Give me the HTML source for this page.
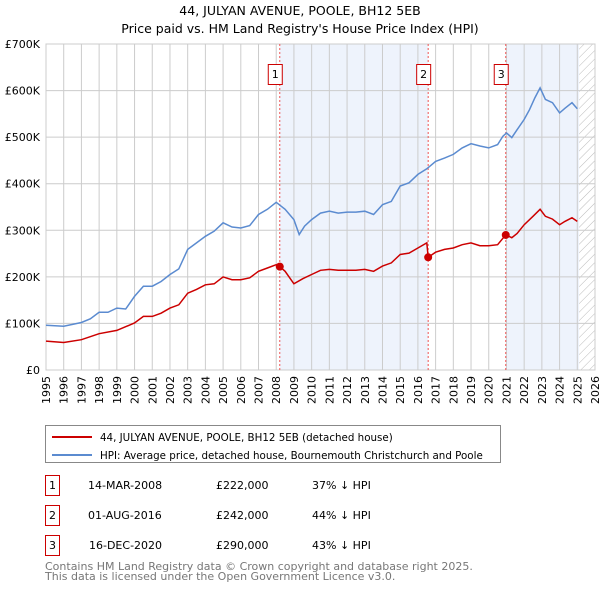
<!DOCTYPE html>
<html><head><meta charset="utf-8"><style>
body{margin:0;background:#fff;font-family:"DejaVu Sans","Liberation Sans",sans-serif;}
svg text{font-family:"DejaVu Sans","Liberation Sans",sans-serif;}
</style></head><body>
<svg id="c" width="600" height="590" xmlns="http://www.w3.org/2000/svg">
<text x="300" y="15" text-anchor="middle" font-size="12.5">44, JULYAN AVENUE, POOLE, BH12 5EB</text>
<text x="300" y="33" text-anchor="middle" font-size="12.5">Price paid vs. HM Land Registry's House Price Index (HPI)</text>
<g id="plot"></g>
<rect x="45.5" y="425.5" width="455" height="37" fill="#fff" stroke="#888"/>
<line x1="52" y1="437" x2="92" y2="437" stroke="#cc0000" stroke-width="2"/>
<text x="100" y="441" font-size="10.3">44, JULYAN AVENUE, POOLE, BH12 5EB (detached house)</text>
<line x1="52" y1="455" x2="92" y2="455" stroke="#5b8bd0" stroke-width="2"/>
<text x="100" y="459" font-size="10.3">HPI: Average price, detached house, Bournemouth Christchurch and Poole</text>
<g font-size="11">
<rect x="45.5" y="475.5" width="14" height="20" fill="none" stroke="#cc0000"/><text x="52.5" y="489" text-anchor="middle">1</text>
<text x="88" y="489">14-MAR-2008</text><text x="216" y="489">£222,000</text><text x="312" y="489">37% ↓ HPI</text>
<rect x="45.5" y="505.5" width="14" height="20" fill="none" stroke="#cc0000"/><text x="52.5" y="519" text-anchor="middle">2</text>
<text x="88" y="519">01-AUG-2016</text><text x="216" y="519">£242,000</text><text x="312" y="519">44% ↓ HPI</text>
<rect x="45.5" y="535.5" width="14" height="20" fill="none" stroke="#cc0000"/><text x="52.5" y="549" text-anchor="middle">3</text>
<text x="89" y="549">16-DEC-2020</text><text x="216" y="549">£290,000</text><text x="312" y="549">43% ↓ HPI</text>
</g>
<text x="45" y="570" font-size="11" fill="#777">Contains HM Land Registry data © Crown copyright and database right 2025.</text>
<text x="45" y="580" font-size="11" fill="#777">This data is licensed under the Open Government Licence v3.0.</text>
</svg>
<script>
const yTicks=[0,100,200,300,400,500,600,700];
const yTickLabels=["£0","£100K","£200K","£300K","£400K","£500K","£600K","£700K"];
const years=[1995,1996,1997,1998,1999,2000,2001,2002,2003,2004,2005,2006,2007,2008,2009,2010,2011,2012,2013,2014,2015,2016,2017,2018,2019,2020,2021,2022,2023,2024,2025,2026];
const saleDates=[2008.2,2016.58,2020.96];
const saleValues=[222,242,290];
const saleLabels=["1","2","3"];
const hpiX=[1995,1996,1997,1997.5,1998,1998.5,1999,1999.5,2000,2000.5,2001,2001.5,2002,2002.5,2003,2003.5,2004,2004.5,2005,2005.5,2006,2006.5,2007,2007.5,2008,2008.5,2009,2009.3,2009.6,2010,2010.5,2011,2011.5,2012,2012.5,2013,2013.5,2014,2014.5,2015,2015.5,2016,2016.5,2017,2017.5,2018,2018.5,2019,2019.5,2020,2020.5,2020.8,2021,2021.3,2021.6,2022,2022.3,2022.6,2022.9,2023.2,2023.6,2024,2024.3,2024.7,2025];
const hpiY=[96,94,102,110,124,124,133,131,158,180,180,190,205,217,259,273,287,298,316,307,305,310,334,345,360,345,323,291,309,323,337,341,337,339,339,341,334,355,362,395,402,420,432,448,455,463,477,486,481,477,484,502,509,499,516,538,559,584,606,581,574,552,562,574,561];
const redX=[1995,1996,1997,1998,1999,2000,2000.5,2001,2001.5,2002,2002.5,2003,2003.5,2004,2004.5,2005,2005.5,2006,2006.5,2007,2007.5,2008,2008.2,2008.5,2009,2009.5,2010,2010.5,2011,2011.5,2012,2012.5,2013,2013.5,2014,2014.5,2015,2015.5,2016,2016.5,2016.58,2017,2017.5,2018,2018.5,2019,2019.5,2020,2020.5,2020.96,2021.3,2021.6,2022,2022.5,2022.9,2023.2,2023.6,2024,2024.3,2024.7,2025];
const redY=[62,59,65,78,85,101,115,115,122,133,140,165,173,183,185,200,194,194,198,212,219,226,222,212,185,196,205,214,216,214,214,214,216,212,223,230,248,251,262,273,242,253,259,262,269,273,267,267,269,290,284,293,312,330,345,330,324,312,319,327,319];

const L=46,R=595,T=44,B=370;
const xs=y=>L+(y-1995)*(R-L)/31;
const ys=v=>B-v*(B-T)/700;
const NS="http://www.w3.org/2000/svg";
const g=document.getElementById('plot');
function mk(t,a){const e=document.createElementNS(NS,t);for(const k in a)e.setAttribute(k,a[k]);g.appendChild(e);return e;}
let s1=mk('rect',{x:xs(saleDates[0]),y:T,width:xs(saleDates[1])-xs(saleDates[0]),height:B-T,fill:'#eef3fc'});


let s2=mk('rect',{x:xs(saleDates[2]),y:T,width:xs(2025.1)-xs(saleDates[2]),height:B-T,fill:'#eef3fc'});


const defs=document.createElementNS(NS,'defs');defs.innerHTML='<pattern id="h" width="6" height="6" patternUnits="userSpaceOnUse" patternTransform="rotate(45)"><line x1="0" y1="0" x2="0" y2="6" stroke="#bbb" stroke-width="1"/></pattern>';g.appendChild(defs);
let hz=mk('rect',{x:xs(2025.1),y:T,width:R-xs(2025.1),height:B-T,fill:'url(#h)'});


years.forEach((yr,i)=>{
 let l=mk('line',{x1:xs(yr),y1:T,x2:xs(yr),y2:B,stroke:'#ccc','stroke-width':1});
 
 
 let t=mk('text',{x:0,y:0,'font-size':11,'text-anchor':'end',transform:`translate(${xs(yr)+4},${B+6}) rotate(-90)`});
 t.textContent=yr;
 
 
});
yTicks.forEach((v,i)=>{
 let l=mk('line',{x1:L,y1:ys(v),x2:R,y2:ys(v),stroke:'#ccc','stroke-width':1});
 
 
 let t=mk('text',{x:L-6,y:ys(v)+4,'font-size':11,'text-anchor':'end'});
 t.textContent=yTickLabels[i];
 
 
});
let ax=mk('rect',{x:L,y:T,width:R-L,height:B-T,fill:'none',stroke:'#ccc'});


saleDates.forEach((d,i)=>{
 let l=mk('line',{x1:xs(d),y1:T,x2:xs(d),y2:B,stroke:'#e55','stroke-width':1,'stroke-dasharray':'2,2'});
 
 
 let bx=mk('rect',{x:xs(d)-11.5,y:64.5,width:14,height:20,fill:'#fff',stroke:'#cc0000'});
 
 
 let t=mk('text',{x:xs(d)-4.5,y:78,'font-size':11,'text-anchor':'middle'});
 t.textContent=saleLabels[i];
 
 
});
function pts(X,Y){return X.map((x,i)=>xs(x).toFixed(1)+','+ys(Y[i]).toFixed(1)).join(' ');}
let hp=mk('polyline',{points:pts(hpiX,hpiY),fill:'none',stroke:'#5b8bd0','stroke-width':1.5});


let rp=mk('polyline',{points:pts(redX,redY),fill:'none',stroke:'#cc0000','stroke-width':1.5});


saleDates.forEach((d,i)=>{
 let c=mk('circle',{cx:xs(d),cy:ys(saleValues[i]),r:4,fill:'#cc0000'});
 
 
});
</script>
</body></html>
